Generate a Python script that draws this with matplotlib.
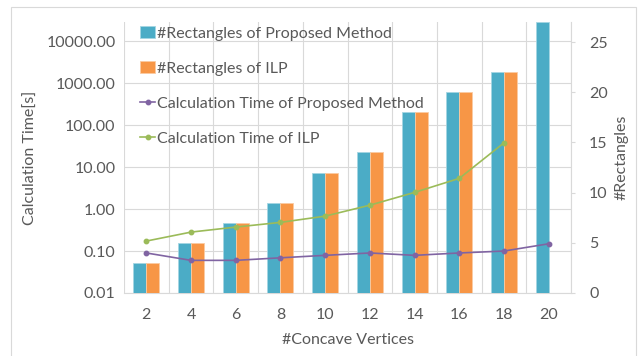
#!/usr/bin/env python3

import matplotlib
matplotlib.use("Agg")
import matplotlib.pyplot as plt
import numpy as np
from matplotlib.patches import Rectangle
from matplotlib.ticker import FixedLocator, FuncFormatter, NullLocator

vertices = ["2", "4", "6", "8", "10", "12", "14", "16", "18", "20"]
rect_proposed = [3, 5, 7, 9, 12, 14, 18, 20, 22, 27]
rect_ilp = [3, 5, 7, 9, 12, 14, 18, 20, 22, np.nan]
time_proposed = [0.09, 0.06, 0.06, 0.069, 0.079, 0.09, 0.079, 0.09, 0.1, 0.149]
time_ilp = [0.173, 0.283, 0.373, 0.482, 0.68, 1.24, 2.5, 5.4, 37.9, np.nan]
time_ticks = [0.01, 0.1, 1, 10, 100, 1000, 10000]
rect_ticks = [0, 5, 10, 15, 20, 25]

BLUE = "#4BACC6"
ORANGE = "#F79646"
PURPLE = "#8064A2"
GREEN = "#9BBB59"
TEXT = "#595959"
GRID = "#D9D9D9"

plt.rcParams["font.family"] = ["Lato", "DejaVu Sans"]
plt.rcParams["font.size"] = 11

fig = plt.figure(figsize=(6.44, 3.56), dpi=100)
pos = [124 / 644, 1 - 293 / 356, (571 - 124) / 644, (293 - 22) / 356]

# bottom layer: log time axis with grid
ax = fig.add_axes(pos)
ax.set_yscale("log")
ax.set_ylim(0.01, 10 ** 4.46)
ax.set_xlim(-0.5, len(vertices) - 0.5)
ax.yaxis.set_major_locator(FixedLocator(time_ticks))
ax.yaxis.set_minor_locator(NullLocator())
ax.yaxis.set_major_formatter(FuncFormatter(lambda v, _: f"{v:.2f}"))
ax.set_xticks(range(len(vertices)))
ax.set_xticklabels(vertices)
ax.set_xticks(np.arange(-0.5, len(vertices)), minor=True)
ax.grid(True, axis="y", which="major", color=GRID, linewidth=0.8)
ax.grid(True, axis="x", which="minor", color=GRID, linewidth=0.8)
ax.tick_params(which="both", length=0, colors=TEXT, labelsize=11.5)
ax.tick_params(axis="x", pad=11)
ax.tick_params(axis="y", pad=6)
for side in ["top", "right", "left"]:
    ax.spines[side].set_visible(False)
ax.spines["bottom"].set_color(GRID)
ax.set_ylabel("Calculation Time[s]", color=TEXT, fontsize=11.5, labelpad=6)
ax.set_xlabel("#Concave Vertices", color=TEXT, fontsize=11.5, labelpad=8)

# middle layer: rectangle counts as bars on the right axis
ax2 = ax.twinx()
x = np.arange(len(vertices))
width = 0.29
b1 = ax2.bar(x - width / 2, rect_proposed, width, color=BLUE,
             edgecolor="#A5D5E2", linewidth=0.6,
             label="#Rectangles of Proposed Method")
b2 = ax2.bar(x + width / 2, rect_ilp, width, color=ORANGE,
             edgecolor="#FBCBA2", linewidth=0.6,
             label="#Rectangles of ILP")
ax2.set_ylim(0, 27)
ax2.set_yticks(rect_ticks)
ax2.tick_params(length=3, width=0.8, color=GRID, labelcolor=TEXT,
                labelsize=11.5, pad=10)
for side in ["top", "left", "bottom"]:
    ax2.spines[side].set_visible(False)
ax2.spines["right"].set_color(GRID)
ax2.spines["right"].set_linewidth(0.8)
ax2.set_ylabel("#Rectangles", color=TEXT, fontsize=11.5, labelpad=5)

# top layer: timing lines, sharing the log axis
ax3 = fig.add_axes(pos, sharex=ax, sharey=ax)
ax3.axis("off")
ax3.patch.set_visible(False)
l1, = ax3.plot(x, time_proposed, color=PURPLE, marker="o", markersize=3.2,
               linewidth=1.2, label="Calculation Time of Proposed Method")
l2, = ax3.plot(x, time_ilp, color=GREEN, marker="o", markersize=3.2,
               linewidth=1.2, label="Calculation Time of ILP")

leg = ax3.legend(handles=[b1, b2, l1, l2], loc="upper left",
                 bbox_to_anchor=(134 / 644, 1 - 20 / 356),
                 bbox_transform=fig.transFigure, frameon=False,
                 fontsize=11.5, labelspacing=1.31, handlelength=0.9,
                 handleheight=0.7, handletextpad=0.15, borderaxespad=0)
for t in leg.get_texts():
    t.set_color(TEXT)

fig.patches.append(Rectangle((10.5 / 644, -0.02), (636 - 10.5) / 644,
                             1.02 - 7 / 356, transform=fig.transFigure,
                             fill=False, edgecolor=GRID, linewidth=0.8))

fig.savefig("out.png", dpi=100)
